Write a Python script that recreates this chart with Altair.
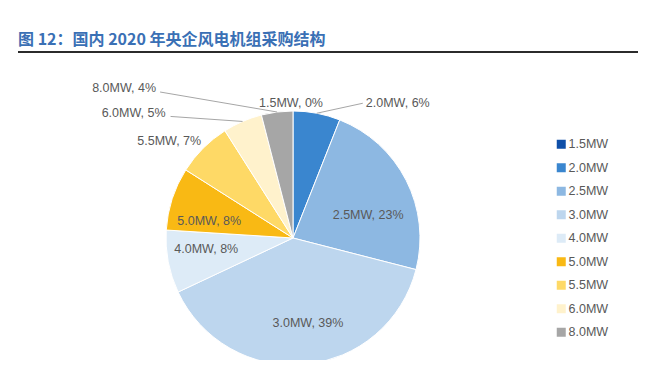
import altair as alt
import pandas as pd

# ---- data ----
categories = ["1.5MW", "2.0MW", "2.5MW", "3.0MW", "4.0MW", "5.0MW", "5.5MW", "6.0MW", "8.0MW"]
shares = [0, 6, 23, 39, 8, 8, 7, 5, 4]
colors = ["#0F4FA8", "#3A86CF", "#8DB8E2", "#BDD6EE", "#DDEBF7",
          "#F9B914", "#FED966", "#FFF2CC", "#A6A6A6"]
title_text = "图 12：国内 2020 年央企风电机组采购结构"

df = pd.DataFrame({"cat": categories, "v": shares, "idx": list(range(len(categories)))})

W, H = 646, 352
CX, CY, R = 285, 230, 127
LABEL_FONT = "Liberation Sans"
LABEL_COLOR = "#595959"

base = alt.Chart(df)

pie = base.mark_arc(outerRadius=R, stroke="white", strokeWidth=1).encode(
    theta=alt.Theta("v:Q", stack=True),
    order=alt.Order("idx:Q", sort="ascending"),
    color=alt.Color(
        "cat:N",
        scale=alt.Scale(domain=categories, range=colors),
        sort=categories,
        legend=alt.Legend(
            title=None, orient="none", legendX=547, legendY=130,
            symbolType="square", symbolSize=81, symbolStrokeWidth=0,
            labelFont=LABEL_FONT, labelFontSize=12.5, labelColor=LABEL_COLOR,
            rowPadding=10.5, labelOffset=1, padding=0,
        ),
    ),
    x=alt.value(CX),
    y=alt.value(CY),
)

# positions derived from the data: point on the pie edge at each slice's mid angle
geo = base.transform_window(
    cum="sum(v)", sort=[alt.SortField("idx", order="ascending")], frame=[None, 0]
).transform_joinaggregate(
    total="sum(v)"
).transform_calculate(
    mid="(datum.cum - datum.v / 2) / datum.total * 2 * PI",
).transform_calculate(
    ex=f"{CX} + {R} * sin(datum.mid)",
    ey=f"{CY} - {R} * cos(datum.mid)",
    label="datum.cat + ', ' + datum.v + '%'",
)

# label style offsets (dx, dy, align)
label_style = {
    "1.5MW": (-2, -8, "center"),
    "2.0MW": (49, -10, "left"),
    "2.5MW": (-38, 35, "center"),
    "3.0MW": (3, -41, "center"),
    "4.0MW": (38, -13, "center"),
    "5.0MW": (37, 22, "center"),
    "5.5MW": (-2, -7, "right"),
    "6.0MW": (-77, -8, "right"),
    "8.0MW": (-121, -24, "right"),
}
leader_style = {
    "2.0MW": (46, -10),
    "6.0MW": (-72, -5),
    "8.0MW": (-117, -20),
}

layers = [pie]
for cat, (dx, dy) in leader_style.items():
    layers.append(
        geo.transform_filter(alt.datum.cat == cat)
        .transform_calculate(lx2=f"datum.ex + ({dx})", ly2=f"datum.ey + ({dy})")
        .mark_rule(color="#A6A6A6", strokeWidth=1)
        .encode(
            x=alt.X("ex:Q", scale=None, axis=None),
            y=alt.Y("ey:Q", scale=None, axis=None),
            x2="lx2:Q",
            y2="ly2:Q",
        )
    )
for cat, (dx, dy, align) in label_style.items():
    layers.append(
        geo.transform_filter(alt.datum.cat == cat)
        .mark_text(dx=dx, dy=dy, align=align, baseline="middle",
                   font=LABEL_FONT, fontSize=12.5, color=LABEL_COLOR)
        .encode(
            x=alt.X("ex:Q", scale=None, axis=None),
            y=alt.Y("ey:Q", scale=None, axis=None),
            text="label:N",
        )
    )

title_df = pd.DataFrame({"t": [title_text]})
title = alt.Chart(title_df).mark_text(
    align="left", baseline="middle", font="Noto Sans CJK SC", fontSize=16,
    fontWeight="bold", color="#3A70B5",
).encode(x=alt.value(10), y=alt.value(32), text="t:N")

underline = alt.Chart(title_df).mark_rule(color="#2B2B2B", strokeWidth=2).encode(
    x=alt.value(10), x2=alt.value(630), y=alt.value(44)
)

chart = alt.layer(title, underline, *layers).properties(
    width=W, height=H,
    autosize=alt.AutoSizeParams(type="none"),
    padding=0,
).configure_view(stroke=None)

chart.save("out.html", embed_options={"renderer": "svg", "actions": False})
